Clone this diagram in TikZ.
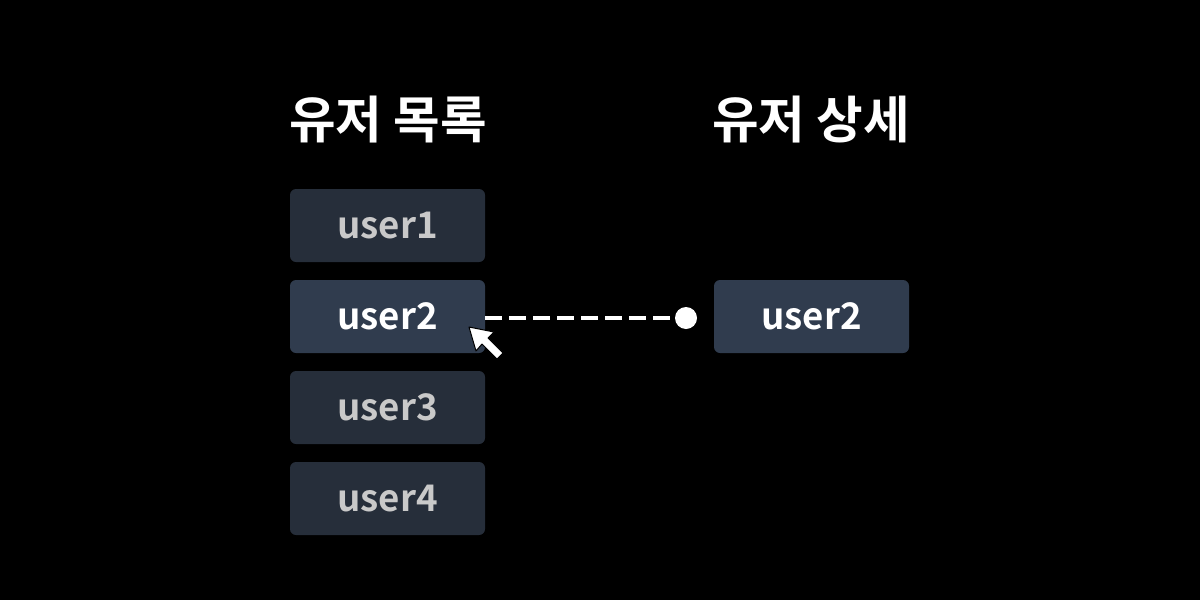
\documentclass[tikz,border=0pt]{standalone}
\usepackage{fontspec}
\setmainfont{Noto Sans CJK KR}[BoldFont={Noto Sans CJK KR Bold}]
\usetikzlibrary{positioning}

\definecolor{boxdim}{HTML}{262E3A}
\definecolor{boxact}{HTML}{303C4E}
\definecolor{txtdim}{HTML}{C9C9C9}

\tikzset{
  userbox/.style={fill=boxdim, rounded corners=4.5pt, minimum width=146.25pt, minimum height=54.75pt,
    inner sep=0pt, text=txtdim, font=\bfseries\fontsize{27.5}{31}\selectfont},
  useract/.style={userbox, fill=boxact, text=white},
  titletext/.style={text=white, inner sep=0.75pt, font=\bfseries\fontsize{38}{44}\selectfont}
}

\begin{document}
\begin{tikzpicture}[x=0.75pt,y=0.75pt,yscale=-1,xscale=1]
            % background
            \fill [black] (0,0) rectangle (1200,600);
            \useasboundingbox (0,0) rectangle (1200,600);

            % Titles
            \draw (388,120) node [titletext] (listtitle) {유저 목록};
            \draw (811,120) node [titletext] (detailtitle) {유저 상세};

            % User list
            \draw (387.5,225.5) node [userbox] (user1) {user1};
            \draw (387.5,316.5) node [useract] (user2) {user2};
            \draw (387.5,407.5) node [userbox] (user3) {user3};
            \draw (387.5,498.5) node [userbox] (user4) {user4};

            % Detail
            \draw (811.5,316.5) node [useract] (detail) {user2};

            % Link dot and dashed line
            \draw (686,318) node [circle, fill=white, minimum size=16.5pt, inner sep=0pt] (dot) {};
            \draw [white, line width=3pt, dash pattern=on 12.75pt off 5.25pt] (user2.east |- dot) -- (dot.west) ;

            %Shape: Cursor
            \draw [fill=white, draw=black, line width=0.75pt, line join=round]
              (469,327) -- (494,332) -- (488,338) -- (503,353) -- (497,359) -- (482,344) -- (476,351) -- cycle ;

        \end{tikzpicture}
\end{document}
